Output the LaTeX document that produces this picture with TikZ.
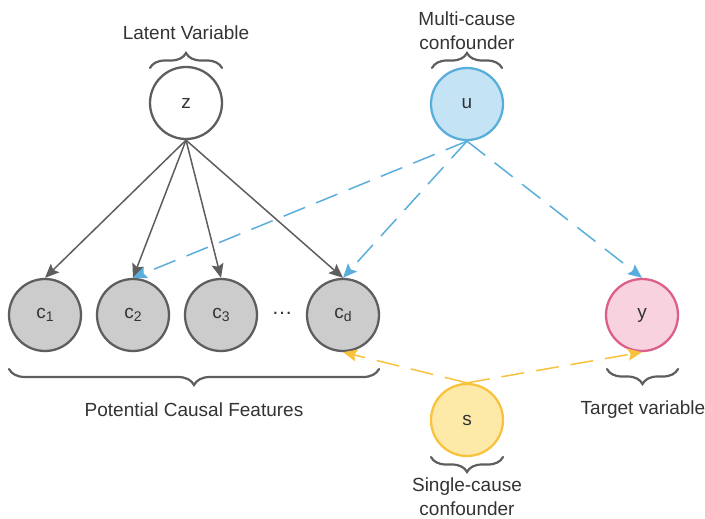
\documentclass[tikz,border=0pt]{standalone}
\usepackage{fontspec}
\setmainfont{Liberation Sans}
\usetikzlibrary{arrows.meta,decorations.pathreplacing}
\definecolor{txt}{HTML}{333333}
\definecolor{grayfill}{HTML}{CCCCCC}
\definecolor{grayline}{HTML}{5E5E5E}
\definecolor{bluefill}{HTML}{C4E4F6}
\definecolor{blueline}{HTML}{5AAEDB}
\definecolor{pinkfill}{HTML}{F8D3DF}
\definecolor{pinkline}{HTML}{DC5F88}
\definecolor{yelfill}{HTML}{FDEAA8}
\definecolor{yelline}{HTML}{F9C23C}
\tikzset{
  var/.style={circle, minimum size=72pt, inner sep=0pt, line width=2.3pt, text=txt, font=\fontsize{19}{22}\selectfont},
  feat/.style={var, draw=grayline, fill=grayfill},
  lbl/.style={text=txt, font=\fontsize{19}{24}\selectfont, align=center, inner sep=1pt},
  tip/.style={-{Stealth[length=14pt,width=12pt,inset=2.5pt]}},
  solidarr/.style={draw=grayline, line width=1.5pt, tip},
  bluearr/.style={draw=blueline, line width=1.5pt, dash pattern=on 23pt off 12pt, tip},
  yelarr/.style={draw=yelline, line width=1.5pt, dash pattern=on 23pt off 12pt, tip},
  bracestyle/.style={draw=grayline, line width=2.2pt, line cap=round, decorate, decoration={brace, amplitude=15pt}},
}
\newcommand{\csub}[1]{c\raisebox{-0.35ex}{\fontsize{14}{14}\selectfont #1}}
\begin{document}
\begin{tikzpicture}[x=1pt,y=-1pt]
\useasboundingbox (0,0) rectangle (705,519);
% nodes
\node[var, draw=grayline, fill=white] (z) at (186,103) {z};
\node[var, draw=blueline, fill=bluefill] (u) at (467,104) {u};
\node[feat] (c1) at (45,315) {\csub{1}};
\node[feat] (c2) at (133,315) {\csub{2}};
\node[feat] (c3) at (221,315) {\csub{3}};
\node[feat] (cd) at (343,315) {\csub{d}};
\node[lbl, font=\fontsize{21}{22}\selectfont] (dots) at (282,313) {…};
\node[var, draw=pinkline, fill=pinkfill] (y) at (642,315) {y};
\node[var, draw=yelline, fill=yelfill] (s) at (467,420) {s};
% labels
\node[lbl] (lz) at (186,33) {Latent Variable};
\node[lbl] (lu) at (467,31) {Multi-cause\\confounder};
\node[lbl] (lc) at (194,410) {Potential Causal Features};
\node[lbl] (ly) at (643,410) {Target variable};
\node[lbl] (ls) at (467,497) {Single-cause\\confounder};
% braces
\coordinate (bz1) at (150,68); \coordinate (bz2) at (222,68);
\draw[bracestyle] (bz1) -- (bz2);
\coordinate (bu1) at (432,68); \coordinate (bu2) at (502,68);
\draw[bracestyle] (bu1) -- (bu2);
\coordinate (bc1) at (379,369); \coordinate (bc2) at (9,369);
\draw[bracestyle, decoration={brace, amplitude=16pt}] (bc1) -- (bc2);
\coordinate (by1) at (678,369); \coordinate (by2) at (607,369);
\draw[bracestyle] (by1) -- (by2);
\coordinate (bs1) at (503,457); \coordinate (bs2) at (431,457);
\draw[bracestyle] (bs1) -- (bs2);
% edges
\draw[solidarr] (z.south) -- (c1.north);
\draw[solidarr] (z.south) -- (c2.north);
\draw[solidarr] (z.south) -- (c3.north);
\draw[solidarr] (z.south) -- (cd.north);
\draw[bluearr] (u.south) -- (c2.north);
\draw[bluearr] (u.south) -- (cd.north);
\draw[bluearr] (u.south) -- (y.north);
\draw[yelarr] (s.north) -- (cd.south);
\draw[yelarr] (s.north) -- (y.south);
\end{tikzpicture}
\end{document}
